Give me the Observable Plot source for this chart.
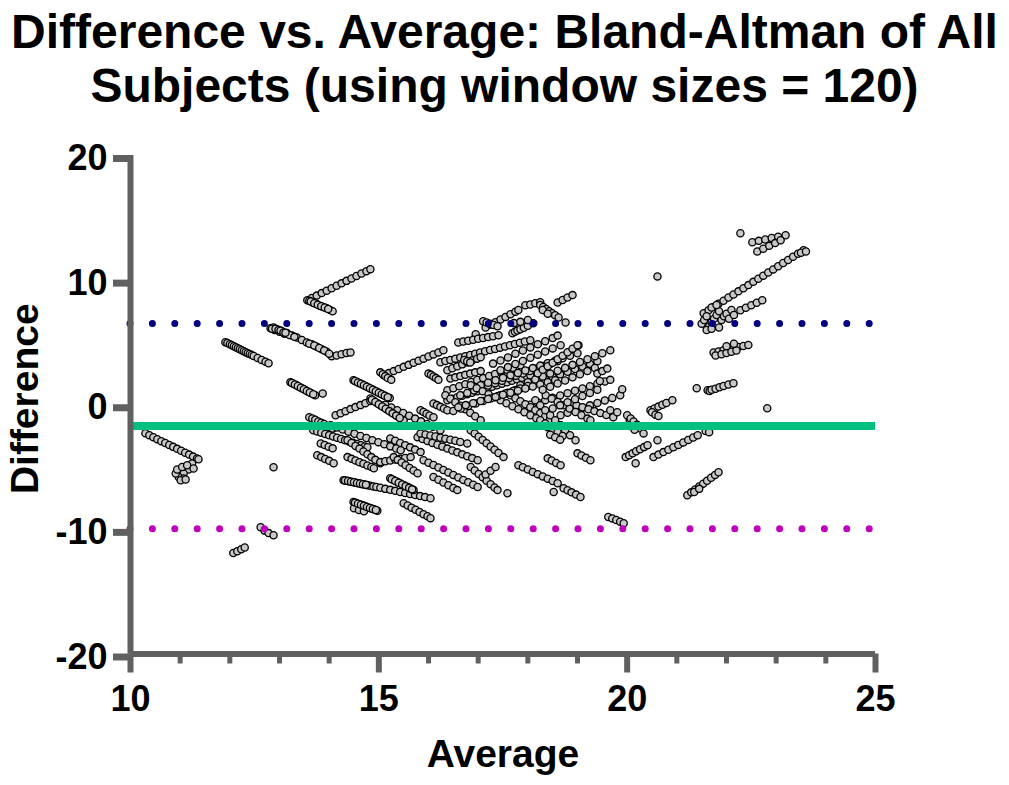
<!DOCTYPE html>
<html>
<head>
<meta charset="utf-8">
<script src="https://cdn.jsdelivr.net/npm/d3@7"></script>
<script src="https://cdn.jsdelivr.net/npm/@observablehq/plot@0.6"></script>
<style>
  html, body { margin: 0; padding: 0; background: #fff; }
  #wrap { width: 1009px; height: 785px; position: relative; overflow: hidden; }
  #title { position: absolute; left: 0; top: 5px; width: 1009px; text-align: center;
    font-family: "Liberation Sans", Arial, sans-serif; font-weight: bold; font-size: 48px; line-height: 54px; color: #000; }
  #chart { position: absolute; left: 0; top: 120px; }
  #chart svg { font-family: "Liberation Sans", Arial, sans-serif; }
</style>
</head>
<body>
<div id="wrap">
  <div id="title">Difference vs. Average: Bland-Altman of All<br>Subjects (using window sizes = 120)</div>
  <div id="chart"></div>
</div>
<script>
// ---- data (Average, Difference) ----
const meanDiff = -1.71;
const upperLoA = 6.52;
const lowerLoA = -9.94;
const xMajorTicks = [10, 15, 20, 25];
const xMinorTicks = [11, 12, 13, 14, 16, 17, 18, 19, 21, 22, 23, 24];
const yTicks = [-20, -10, 0, 10, 20];

const ptsLeftUpper = [
  [13.56,8.39],[13.65,8.57],[13.75,8.76],[13.85,8.96],[13.95,9.15],[14.05,9.35],[14.15,9.55],[14.25,9.74],[14.35,9.94],[14.45,10.13],[14.55,10.33],[14.65,10.53],[14.75,10.72],[14.83,10.88],
  [13.6,8.35],[13.67,8.2],[13.74,8.1],[13.81,7.95],[13.88,7.85],[13.95,7.75],[14.02,7.6],[14.07,7.5],
  [12.82,6.14],[12.88,6.2],[12.95,6.05],[13.05,5.9],[13.15,5.75],[13.25,5.55],[13.35,5.4],[13.45,5.2],[13.55,5.0],[13.65,4.85],[13.75,4.65],[13.85,4.45],[13.95,4.25],[14.05,3.9],[14.15,3.95],[14.25,4.05],[14.35,4.15],[14.43,4.2],
  [12.9,6.0],[13.0,5.85],[13.1,5.7],[13.2,5.6],[13.3,5.45],[13.6,4.9],[13.7,4.75],[13.8,4.55],[13.9,4.35],[14.0,4.1],
  [11.91,5.02],[11.95,4.95],[12.0,4.85],[12.04,4.77],[12.08,4.69],[12.12,4.61],[12.16,4.53],[12.2,4.45],[12.24,4.38],[12.28,4.3],[12.32,4.22],[12.36,4.14],[12.4,4.07],[12.44,3.99],[12.48,3.91],[12.56,3.76],[12.64,3.6],[12.72,3.45],[12.78,3.33],
  [13.22,1.81],[13.28,1.68],[13.34,1.56],[13.4,1.43],[13.46,1.3],[13.52,1.18],[13.58,1.05],[13.64,0.93],[13.72,0.76],[13.87,0.9]
];

const ptsLeftLower = [
  [10.3,-2.29],[10.38,-2.45],[10.46,-2.6],[10.54,-2.76],[10.62,-2.92],[10.7,-3.07],[10.78,-3.23],[10.86,-3.38],[10.94,-3.54],[11.02,-3.69],[11.1,-3.85],[11.18,-4.0],[11.26,-4.16],[11.34,-4.31],[11.37,-4.37],
  [11.24,-4.72],[11.17,-5.2],[11.07,-5.52],[10.97,-5.79],[10.91,-5.52],[10.94,-5.2],[11.04,-4.99],[11.14,-4.86],[11.27,-5.12],[11.07,-5.92],[11.01,-6.06],[11.11,-6.0],
  [12.88,-5.02],
  [12.62,-9.83],[12.7,-10.1],[12.78,-10.3],[12.88,-10.47],
  [12.07,-11.9],[12.15,-11.75],[12.23,-11.6],[12.3,-11.45]
];

const ptsMidLeft = [
  [14.49,1.97],[14.55,1.85],[14.61,1.73],[14.67,1.62],[14.73,1.5],[14.79,1.38],[14.85,1.26],[14.91,1.14],[14.97,1.02],[15.03,0.9],[15.09,0.78],[15.15,0.66],[15.22,0.55],
  [14.83,0.5],[14.9,0.32],[14.97,0.13],[15.04,-0.05],[15.11,-0.23],[15.18,-0.42],[15.25,-0.6],[15.32,-0.78],[15.39,-0.97],[15.46,-1.15],[15.5,-1.25],
  [14.13,-0.84],[14.23,-0.68],[14.33,-0.52],[14.43,-0.35],[14.53,-0.19],[14.63,-0.03],[14.73,0.13],[14.83,0.3],
  [13.6,-1.0],[13.66,-1.1],[13.72,-1.2],[13.78,-1.35],[13.84,-1.45],[13.9,-1.55],[13.96,-1.7],[14.02,-1.8],[14.07,-1.9],
  [13.68,-2.05],[13.76,-2.15],[13.84,-2.25],[13.92,-2.35],[14.0,-2.45],[14.08,-2.55],[14.16,-2.65],[14.24,-2.75],[14.32,-2.85],[14.4,-2.95],[14.48,-3.05],[14.56,-3.15],[14.64,-3.25],[14.72,-3.35],[14.77,-3.41],
  [13.83,-3.1],[13.91,-3.23],[13.99,-3.37],[14.07,-3.5],
  [13.76,-4.05],[13.84,-4.2],[13.92,-4.35],[14.0,-4.5],[14.09,-4.7],
  [14.37,-2.85],[14.45,-3.07],[14.53,-3.3],[14.61,-3.52],[14.69,-3.75],[14.77,-3.97],[14.85,-4.2],[14.93,-4.42],[15.03,-4.7],
  [14.37,-4.2],[14.45,-4.34],[14.53,-4.47],[14.61,-4.61],[14.69,-4.74],[14.77,-4.88],[14.85,-5.0],[14.9,-5.1],
  [15.03,-4.6],[15.13,-4.53],[15.23,-4.47],[15.33,-4.4],[15.43,-4.33],[15.53,-4.27],[15.64,-4.2],
  [15.23,-2.7],[15.33,-2.88],[15.43,-3.06],[15.53,-3.24],[15.63,-3.42],[15.73,-3.6],[15.84,-3.8],
  [15.3,-4.2],[15.38,-4.42],[15.46,-4.63],[15.54,-4.85],[15.62,-5.07],[15.7,-5.28],[15.78,-5.5],
  [14.03,-1.65],[14.15,-1.82],[14.27,-1.99],[14.39,-2.16],[14.51,-2.33],[14.63,-2.5],[14.75,-2.67],[14.87,-2.84],[14.99,-3.0],[15.11,-3.17],[15.23,-3.34],[15.35,-3.51],[15.44,-3.65],
  [15.13,0.0],[15.25,-0.22],[15.37,-0.44],[15.49,-0.66],[15.61,-0.88],[15.73,-1.11],[15.85,-1.33],[15.97,-1.55],[16.09,-1.77],[16.24,-2.05],
  [15.84,-0.44],[15.9,-0.58],[15.96,-0.72],[16.02,-0.86],[16.1,-1.0],[16.1,0.1],[16.17,-0.03],[16.24,-0.17],[16.31,-0.3],[16.38,-0.44]
];

const ptsMidLower = [
  [14.29,-6.05],[14.35,-6.1],[14.41,-6.15],[14.47,-6.2],[14.53,-6.25],[14.59,-6.3],[14.65,-6.35],[14.71,-6.4],[14.77,-6.45],[14.83,-6.5],[14.89,-6.55],[14.95,-6.6],[15.03,-6.66],[15.13,-6.75],[15.23,-6.83],[15.33,-6.91],[15.43,-7.0],[15.53,-7.08],[15.63,-7.16],[15.73,-7.24],[15.83,-7.33],[15.93,-7.41],[16.04,-7.5],
  [14.49,-7.8],[14.55,-7.9],[14.61,-7.98],[14.67,-8.07],[14.73,-8.15],[14.79,-8.24],[14.85,-8.33],[14.91,-8.41],[14.97,-8.5],[14.5,-8.3],[14.6,-8.45],[14.7,-8.55],
  [15.23,-5.9],[15.3,-6.04],[15.37,-6.18],[15.44,-6.32],[15.51,-6.46],[15.58,-6.6],[15.64,-6.73],[15.7,-6.85],
  [15.5,-7.9],[15.58,-8.08],[15.66,-8.26],[15.74,-8.43],[15.82,-8.6],[15.9,-8.78],[15.98,-8.95],[16.04,-9.1],
  [15.78,-2.6],[15.88,-2.75],[15.98,-2.9],[16.08,-3.06],[16.18,-3.21],[16.28,-3.36],[16.38,-3.52],[16.48,-3.67],[16.58,-3.82],[16.68,-3.98],[16.78,-4.13],[16.88,-4.28],[16.99,-4.45],
  [15.9,-4.45],[16.0,-4.65],[16.1,-4.84],[16.2,-5.04],[16.3,-5.24],[16.4,-5.43],[16.5,-5.63],[16.6,-5.83],[16.7,-6.03],[16.8,-6.22],[16.9,-6.42],[16.99,-6.6],
  [16.1,-5.8],[16.2,-6.02],[16.3,-6.24],[16.4,-6.46],[16.5,-6.68],[16.58,-6.85],
  [15.84,-2.3],[15.94,-2.38],[16.04,-2.47],[16.14,-2.55],[16.24,-2.64],[16.34,-2.72],[16.44,-2.81],[16.54,-2.89],[16.64,-2.98],[16.78,-3.1],
  [16.85,-2.05],[16.93,-2.31],[17.01,-2.57],[17.09,-2.83],[17.17,-3.09],[17.25,-3.35],[17.33,-3.61],[17.41,-3.87],[17.51,-4.2],
  [16.85,-5.0],[16.93,-5.27],[17.01,-5.55],[17.09,-5.82],[17.17,-6.1],[17.25,-6.37],[17.33,-6.64],[17.39,-6.85],[17.15,-5.6],[17.25,-5.3],[17.35,-5.0],
  [17.81,-4.86],[17.9,-5.02],[18.0,-5.2],[18.1,-5.39],[18.2,-5.57],[18.3,-5.75],[18.4,-5.93],[18.5,-6.12],[18.6,-6.3],
  [18.4,-4.3],[18.48,-4.47],[18.57,-4.67],[18.66,-4.86],
  [19.0,-3.9],[19.08,-4.07],[19.17,-4.26],[19.26,-4.45],
  [18.72,-6.7],[18.8,-6.86],[18.88,-7.03],[18.97,-7.21],[19.06,-7.4],
  [17.59,-7.1],[18.52,-7.0],
  [19.62,-9.0],[19.7,-9.13],[19.78,-9.25],[19.86,-9.38],[19.93,-9.5]
];

const ptsCenterUpper = [
  [15.1,2.37],[15.2,2.54],[15.3,2.7],[15.4,2.87],[15.5,3.04],[15.6,3.2],[15.7,3.37],[15.8,3.54],[15.9,3.7],[16.0,3.87],[16.1,4.04],[16.2,4.2],[16.3,4.37],
  [15.03,2.6],[15.08,2.45],[15.13,2.3],[15.18,2.15],[15.25,2.0],
  [16.0,2.5],[16.05,2.4],[16.1,2.27],[16.15,2.14],[16.2,2.0],
  [17.15,6.2],[17.25,6.41],[17.35,6.62],[17.45,6.84],[17.55,7.05],[17.65,7.26],[17.75,7.47],[17.81,7.6],
  [17.1,6.7],[17.17,6.6],[17.24,6.5],[17.31,6.4],[17.39,6.3],
  [17.95,7.98],[18.05,8.05],[18.15,8.15],[18.25,8.22],
  [18.25,8.0],[18.31,7.85],[18.37,7.68],[18.43,7.5],[18.49,7.35],[18.55,7.18],[18.62,7.0],[18.3,7.6],[18.4,7.3],
  [18.6,8.2],[18.7,8.4],[18.8,8.6],[18.9,8.8],
  [17.69,5.74],[17.74,5.85],[17.79,5.95],[17.85,6.06],[17.92,6.18],[18.0,6.33],[18.11,6.54],[17.72,6.55],[17.85,6.65],[18.0,6.8],
  [16.95,5.66],[18.76,6.6],[19.02,4.78],
  [16.6,5.0],[16.7,5.07],[16.8,5.14],[16.9,5.21],[17.0,5.29],[17.1,5.36],[17.2,5.43],[17.3,5.5],[17.41,5.58],
  [16.24,3.41],[16.34,3.51],[16.44,3.6],[16.54,3.7],[16.64,3.8],[16.74,3.9],[16.84,4.0],[16.94,4.09],[17.04,4.19],[17.14,4.29],[17.24,4.39],[17.34,4.48],[17.44,4.58],[17.54,4.68],[17.64,4.78],[17.74,4.88],[17.84,4.97],[17.94,5.07],[18.05,5.18],
  [16.38,2.77],[16.48,2.93],[16.58,3.08],[16.68,3.24],[16.78,3.39],[16.88,3.55],[16.98,3.7],[17.05,3.81],[16.72,3.6],[16.78,3.5],[16.84,3.4],
  [16.44,2.1],[16.54,2.2],[16.64,2.3],[16.74,2.4],[16.84,2.5],[16.94,2.6],[17.05,2.7],
  [17.3,3.3],[17.45,3.55],[17.6,3.8],[17.75,4.1],[17.9,4.35],[18.05,4.6],[18.2,4.85],[18.35,5.1],[18.5,5.35],[18.6,5.55]
];

const ptsCenter = [
  [16.38,0.36],[16.48,0.48],[16.58,0.6],[16.68,0.72],[16.78,0.84],[16.88,0.96],[16.98,1.08],[17.08,1.2],[17.18,1.32],[17.28,1.44],[17.38,1.56],[17.48,1.68],[17.58,1.8],[17.68,1.92],[17.78,2.04],[17.88,2.16],[17.98,2.28],[18.05,2.37],
  [16.38,1.16],[16.5,1.32],[16.62,1.49],[16.74,1.65],[16.86,1.82],[16.98,1.98],[17.1,2.14],[17.22,2.31],[17.34,2.47],[17.46,2.64],[17.58,2.8],[17.7,2.97],[17.85,3.17],
  [16.64,0.76],[16.78,0.95],[16.92,1.15],[17.06,1.34],[17.2,1.54],[17.34,1.73],[17.48,1.93],[17.62,2.12],[17.76,2.32],[17.9,2.51],[18.04,2.71],[18.18,2.9],[18.32,3.1],[18.46,3.29],[18.6,3.49],
  [17.05,1.57],[17.2,1.77],[17.35,1.96],[17.5,2.16],[17.65,2.36],[17.8,2.55],[17.95,2.75],[18.1,2.94],[18.25,3.14],[18.4,3.34],[18.55,3.53],[18.7,3.73],[18.85,3.93],[19.0,4.13],
  [17.45,0.76],[17.6,0.97],[17.75,1.18],[17.9,1.39],[18.05,1.6],[18.2,1.81],[18.35,2.02],[18.5,2.23],[18.65,2.44],[18.8,2.65],[18.95,2.86],[19.1,3.07],[19.25,3.28],[19.4,3.49],
  [17.85,1.57],[18.0,1.8],[18.15,2.03],[18.3,2.27],[18.45,2.5],[18.6,2.73],[18.75,2.96],[18.9,3.2],[19.05,3.43],[19.2,3.66],[19.35,3.89],[19.5,4.13],[19.66,4.37],
  [18.05,0.0],[18.2,0.19],[18.35,0.37],[18.5,0.56],[18.65,0.75],[18.8,0.93],[18.95,1.12],[19.1,1.31],[19.25,1.49],[19.4,1.68],[19.55,1.87],[19.66,2.0],
  [18.66,-0.84],[18.8,-0.65],[18.95,-0.45],[19.1,-0.25],[19.25,-0.05],[19.4,0.15],[19.55,0.35],[19.7,0.55],[19.86,0.76],
  [18.86,0.1],[18.98,-0.05],[19.1,-0.2],[19.22,-0.36],[19.34,-0.51],[19.46,-0.67],[19.58,-0.82],[19.72,-1.0],
  [17.65,0.76],[17.75,0.52],[17.85,0.28],[17.95,0.04],[18.05,-0.2],[18.15,-0.44],[18.25,-0.68],[18.35,-0.92],[18.45,-1.16],[18.55,-1.4],[18.66,-1.65],
  [18.15,0.36],[18.25,-0.04],[18.35,-0.44],[18.45,-0.84],[18.55,-1.24],[18.65,-1.64],[18.75,-2.04],[18.85,-2.44],[18.96,-2.85],
  [18.36,0.76],[18.48,0.49],[18.6,0.23],[18.72,-0.04],[18.84,-0.31],[18.96,-0.58],[19.08,-0.84],[19.2,-1.11],[19.26,-1.24],
  [16.85,1.57],[16.97,1.33],[17.09,1.09],[17.21,0.85],[17.33,0.6],[17.45,0.36],[17.57,0.12],[17.69,-0.12],[17.81,-0.36],[17.93,-0.6],[18.05,-0.84],[18.17,-1.08],[18.25,-1.24],
  [16.34,0.76],[16.44,0.48],[16.54,0.2],[16.64,-0.08],[16.74,-0.36],[16.84,-0.64],[16.94,-0.92],[17.05,-1.24],
  [18.2,2.53],[18.3,2.81],[18.4,3.09],[18.5,3.37],[18.6,3.65],[18.7,3.93],[18.8,4.21],[18.9,4.5],[19.0,4.78],
  [17.45,2.77],[17.6,3.02],[17.75,3.27],[17.9,3.52],[18.05,3.77],[18.2,4.02],[18.35,4.27],[18.5,4.52],[18.66,4.78],
  [16.5,-0.5],[16.65,-0.3],[16.8,-0.1],[16.95,0.1],[17.1,0.3],[17.25,0.5],[17.4,0.7],[17.55,0.9],[17.7,1.1],[17.85,1.3],[18.0,1.5],
  [16.6,-0.2],[16.75,-0.03],[16.9,0.13],[17.05,0.3],[17.2,0.46],[17.35,0.63],[17.5,0.8],[17.65,0.96],[17.8,1.13],[17.95,1.3],[18.1,1.46],[18.25,1.63],[18.4,1.8],[18.55,1.96],
  [18.3,1.2],[18.45,1.45],[18.6,1.7],[18.75,1.95],[18.9,2.2],[19.05,2.45],[19.2,2.7],[19.35,2.95],
  [18.5,-0.3],[18.65,-0.05],[18.8,0.2],[18.95,0.45],[19.1,0.7],[19.25,0.95],[19.4,1.2],
  [18.35,-1.5],[18.4,-1.8],[18.5,-2.0],[18.6,-2.2],[18.7,-2.5],[18.45,-2.4],[18.55,-2.6],[18.65,-2.8],
  [19.4,2.5],[19.5,2.7],[19.6,2.9],[19.45,1.9],[19.66,-0.44],[19.8,-0.6],[20.05,-1.2],[20.1,-1.5]
];

// overlapping readings that make the dark, dense runs
const ptsDenseRuns = [
  [12.85,6.1],[12.92,6.1],[12.98,6.0],[13.02,5.95],[13.08,5.8],[13.12,5.78],
  [13.25,1.75],[13.31,1.62],[13.37,1.5],[13.43,1.36],[13.49,1.24],[13.55,1.1],[13.61,0.99],[13.68,0.85],
  [14.52,1.91],[14.58,1.79],[14.64,1.68],[14.7,1.56],[14.76,1.44],[14.82,1.32],[14.88,1.2],[14.94,1.08],[15.0,0.96],[15.06,0.84],[15.12,0.72],[15.18,0.6],
  [14.86,0.41],[14.93,0.22],[15.0,0.04],[15.07,-0.14],[15.14,-0.32],[15.21,-0.51],[15.28,-0.69],[15.35,-0.87],[15.42,-1.06],
  [14.52,-7.85],[14.58,-7.94],[14.64,-8.02],[14.7,-8.11],[14.76,-8.2],[14.82,-8.28],[14.88,-8.37],[14.94,-8.45],
  [15.26,-5.97],[15.33,-6.11],[15.4,-6.25],[15.47,-6.39],[15.54,-6.53],[15.61,-6.67],[15.67,-6.79],
  [14.32,-6.08],[14.38,-6.12],[14.44,-6.18],[14.5,-6.22],[14.56,-6.28],[14.62,-6.32],[14.68,-6.38],[14.74,-6.42],
  [13.63,8.28],[13.7,8.15],[13.77,8.02],[13.84,7.9],[13.91,7.8],[13.98,7.68]
];

const ptsRight = [
  [19.9,1.24],[21.4,1.32],[22.82,-0.28],[20.61,10.3],[20.17,-4.7],[20.61,-2.85],
  [19.97,-4.2],[20.04,-4.05],[20.11,-3.9],[20.18,-3.73],[20.26,-3.57],[20.34,-3.4],[20.41,-3.25],
  [20.53,-4.2],[20.63,-4.0],[20.73,-3.8],[20.83,-3.61],[20.93,-3.41],[21.03,-3.22],[21.13,-3.02],[21.23,-2.82],[21.33,-2.63],[21.42,-2.45],
  [20.0,-0.84],[20.07,-1.1],[20.13,-1.35],[20.2,-1.6],[20.27,-1.9],[20.33,-2.3],[20.05,-1.7],[20.15,-2.0],
  [21.21,-7.26],[21.29,-7.03],[21.37,-6.8],[21.45,-6.56],[21.53,-6.33],[21.61,-6.1],[21.69,-5.86],[21.77,-5.63],[21.84,-5.42],[21.35,-7.0],[21.45,-6.75],
  [20.47,-0.44],[20.55,-0.3],[20.63,-0.15],[20.71,0.0],[20.79,0.14],[20.91,0.36],[20.5,-0.6],[20.57,-0.8],[20.63,-0.9],
  [21.58,-2.1],[21.65,-2.2],
  [21.62,1.16],[21.66,1.1],[21.7,1.2],[21.78,1.28],[21.86,1.4],[21.94,1.5],[22.04,1.62],[22.14,1.73],
  [21.74,4.2],[21.84,4.28],[21.94,4.37],[22.04,4.46],[22.14,4.54],[22.24,4.63],[22.34,4.71],[22.44,4.8],
  [21.78,3.95],[21.9,4.05],[22.0,4.15],[22.1,4.25],[22.2,4.35],[22.0,4.7],[22.15,4.9],
  [21.54,7.34],[21.64,7.59],[21.74,7.84],[21.84,8.1],[21.94,8.35],[22.04,8.6],[22.14,8.85],[22.24,9.1],[22.34,9.35],[22.44,9.6],[22.54,9.86],[22.64,10.11],[22.74,10.36],[22.84,10.61],[22.94,10.86],[23.04,11.11],[23.14,11.37],[23.24,11.62],[23.34,11.87],[23.44,12.12],[23.55,12.4],[23.5,12.2],[23.6,12.3],
  [21.5,6.5],[21.55,6.8],[21.6,7.1],[21.65,6.3],[21.7,6.6],[21.75,6.9],[21.8,7.2],[21.85,7.5],[21.9,6.8],[21.95,7.1],[22.0,7.3],[22.05,6.9],[22.1,7.6],[22.15,7.2],[21.7,7.8],[21.8,8.0],[21.6,6.0],[21.7,6.1],[21.85,6.2],
  [22.28,7.58],[22.39,7.78],[22.5,7.98],[22.61,8.19],[22.72,8.39],
  [22.28,13.76],
  [22.52,13.04],[22.65,13.15],[22.78,13.26],[22.91,13.38],[23.04,13.49],[23.19,13.6],
  [22.62,12.3],[22.74,12.52],[22.86,12.75],[22.98,12.97],[23.09,13.2]
];

const points = [...ptsLeftUpper, ...ptsLeftLower, ...ptsMidLeft, ...ptsMidLower, ...ptsCenterUpper, ...ptsCenter, ...ptsDenseRuns, ...ptsRight]
  .map(([avg, diff]) => ({avg, diff}));

const axisGrey = "#606060";
const font = "Liberation Sans, Arial, sans-serif";
const fmt = d => String(d);

const chart = Plot.plot({
  width: 1009,
  height: 665,
  marginLeft: 130,
  marginRight: 134,
  marginTop: 35,
  marginBottom: 131.5,
  style: {fontFamily: font, background: "white", overflow: "visible"},
  x: {domain: [10, 25], axis: null},
  y: {domain: [-20, 20], axis: null},
  marks: [
    Plot.dot(points, {x: "avg", y: "diff", r: 3.6, fill: "#c8c8c8", stroke: "#000", strokeWidth: 1.3}),
    Plot.ruleY([upperLoA], {stroke: "#000080", strokeWidth: 7, strokeDasharray: "0,22.4", strokeLinecap: "round"}),
    Plot.ruleY([lowerLoA], {stroke: "#c000c0", strokeWidth: 7, strokeDasharray: "0,22.4", strokeLinecap: "round"}),
    Plot.ruleY([meanDiff], {stroke: "#00c07f", strokeWidth: 8}),
    Plot.ruleX([10], {y1: -20, y2: 20, stroke: axisGrey, strokeWidth: 6}),
    Plot.ruleY([-20], {x1: 10, x2: 25, stroke: axisGrey, strokeWidth: 6}),
    Plot.axisX(xMajorTicks, {tickSize: 19, tickPadding: 12, stroke: axisGrey, strokeWidth: 6, fill: "#000",
      fontSize: 36, fontWeight: "bold", tickFormat: fmt, label: null}),
    Plot.axisX(xMinorTicks, {tickSize: 10, stroke: axisGrey, strokeWidth: 5, tickFormat: () => "", label: null}),
    Plot.axisY(yTicks, {tickSize: 17, tickPadding: 6, stroke: axisGrey, strokeWidth: 7, fill: "#000",
      fontSize: 36, fontWeight: "bold", dy: 3, tickFormat: fmt, label: null}),
    Plot.text(["Average"], {frameAnchor: "bottom", dy: 113, fontSize: 39, fontWeight: "bold", fill: "#000"}),
    Plot.text(["Difference"], {frameAnchor: "left", textAnchor: "middle", dx: -105, dy: -6, rotate: -90, fontSize: 39, fontWeight: "bold", fill: "#000"})
  ]
});
document.getElementById("chart").appendChild(chart);
</script>
</body>
</html>
